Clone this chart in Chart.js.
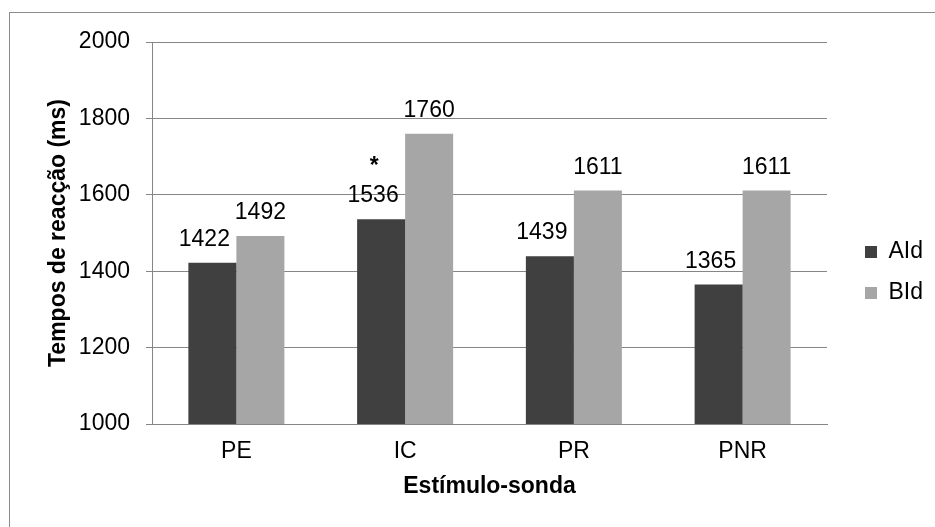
<!DOCTYPE html>
<html>
<head>
<meta charset="utf-8">
<script src="https://cdn.jsdelivr.net/npm/chart.js@4/dist/chart.umd.min.js"></script>
<style>
    body { margin: 0; overflow: hidden; background: #fff; }
    #frame { position: absolute; left: 9px; top: 12px; width: 1000px; height: 1000px; border: 1px solid #8c8c8c; }
    #wrap { position: absolute; left: 0; top: 0; width: 935px; height: 527px; }
</style>
</head>
<body>
<div id="frame"></div>
<div id="wrap"><canvas id="canvas" width="935" height="527"></canvas></div>
<script>
var categories = ['PE', 'IC', 'PR', 'PNR'];
var seriesNames = ['AId', 'BId'];
var aIdValues = [1422, 1536, 1439, 1365];
var bIdValues = [1492, 1760, 1611, 1611];
var yMin = 1000, yMax = 2000, yStep = 200;
var yTitle = 'Tempos de reacção (ms)';
var xTitle = 'Estímulo-sonda';
// significance mark above a bar
var marks = [{ category: 'IC', series: 0, text: '*' }];

var FONT = '"Liberation Sans", Arial, sans-serif';
var GRAY = '#868686';

// value labels over the bars + the star
var barLabels = {
    id: 'barLabels',
    afterDatasetsDraw: function (chart) {
        var ctx = chart.ctx;
        ctx.save();
        ctx.fillStyle = '#000';
        ctx.textAlign = 'center';
        ctx.textBaseline = 'alphabetic';
        ctx.font = '23px ' + FONT;
        chart.data.datasets.forEach(function (ds, i) {
            var meta = chart.getDatasetMeta(i);
            var shift = i == 0 ? -8 : 0;
            meta.data.forEach(function (bar, j) {
                ctx.fillText(String(ds.data[j]), bar.x + shift, bar.y - 17);
            });
        });
        ctx.font = 'bold 23px ' + FONT;
        marks.forEach(function (m) {
            var bar = chart.getDatasetMeta(m.series).data[categories.indexOf(m.category)];
            ctx.fillText(m.text, bar.x - 7, bar.y - 46);
        });
        ctx.restore();
    }
};

// fixed legend width, then nudge it right like the original
var legendPlace = {
    id: 'legendPlace',
    beforeInit: function (chart) {
        var lg = chart.legend;
        var fit = lg.fit;
        lg.fit = function () {
            fit.call(this);
            this.width = 108;
        };
    },
    afterLayout: function (chart) {
        chart.legend.left += 20;
        chart.legend.right += 20;
    }
};

var ctx = document.getElementById('canvas').getContext('2d');
var myChart = new Chart(ctx, {
    type: 'bar',
    data: {
        labels: categories,
        datasets: [
            { label: seriesNames[0], data: aIdValues, backgroundColor: '#404040' },
            { label: seriesNames[1], data: bIdValues, backgroundColor: '#a6a6a6' }
        ]
    },
    options: {
        responsive: false,
        animation: false,
        events: [],
        categoryPercentage: 0.569,
        barPercentage: 1,
        layout: { padding: { left: 10, top: 42, right: 0, bottom: 24 } },
        plugins: {
            tooltip: { enabled: false },
            legend: {
                position: 'right',
                labels: {
                    boxWidth: 12,
                    boxHeight: 12,
                    padding: 18,
                    color: '#000',
                    font: { family: FONT, size: 23 }
                }
            }
        },
        scales: {
            x: {
                grid: { display: false },
                border: { display: true, color: GRAY, width: 1 },
                ticks: { color: '#000', padding: 6, font: { family: FONT, size: 23 } },
                title: {
                    display: true, text: xTitle, color: '#000',
                    font: { family: FONT, size: 23, weight: 'bold' },
                    padding: { top: 0, bottom: 3 }
                },
                afterFit: function (scale) { scale.height = 79; }
            },
            y: {
                min: yMin,
                max: yMax,
                grid: { color: GRAY, tickLength: 6 },
                border: { display: true, color: GRAY, width: 1 },
                ticks: {
                    stepSize: yStep, color: '#000', padding: 16,
                    font: { family: FONT, size: 23 },
                    callback: function (v) { return String(v); }
                },
                title: {
                    display: true, text: yTitle, color: '#000',
                    font: { family: FONT, size: 23, weight: 'bold' },
                    padding: { top: 35, bottom: 0 }
                },
                afterFit: function (scale) { scale.width = 142; }
            }
        }
    },
    plugins: [barLabels, legendPlace]
});
</script>
</body>
</html>
